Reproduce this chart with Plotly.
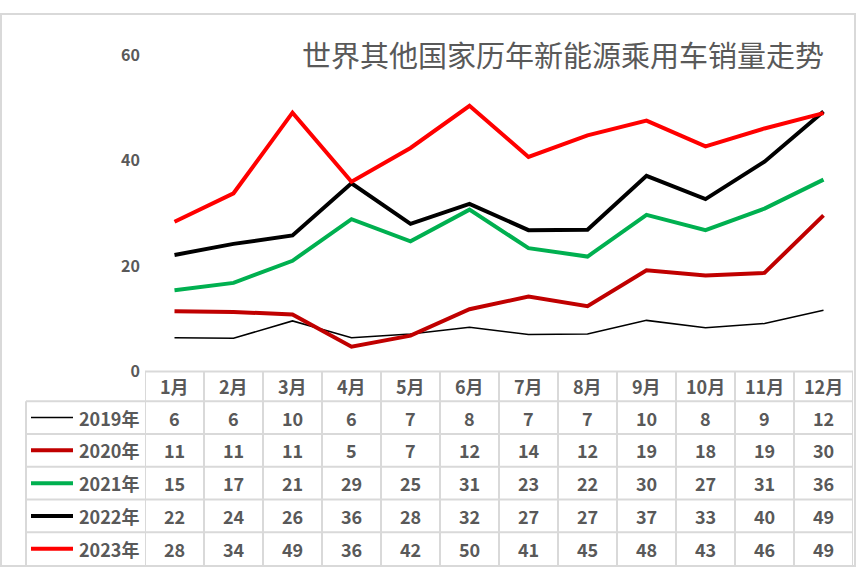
import plotly.graph_objects as go

W, H = 856, 578

months = ['1月', '2月', '3月', '4月', '5月', '6月', '7月', '8月', '9月', '10月', '11月', '12月']
years = ['2019年', '2020年', '2021年', '2022年', '2023年']

sales_2019 = [6.4, 6.3, 9.6, 6.4, 7.1, 8.4, 7.0, 7.1, 9.7, 8.3, 9.1, 11.6]
sales_2020 = [11.4, 11.3, 10.8, 4.7, 6.8, 11.8, 14.2, 12.4, 19.2, 18.2, 18.7, 29.6]
sales_2021 = [15.4, 16.8, 21.0, 28.9, 24.7, 30.7, 23.4, 21.8, 29.7, 26.8, 30.9, 36.4]
sales_2022 = [22.1, 24.2, 25.8, 35.7, 28.0, 31.8, 26.8, 26.9, 37.1, 32.7, 39.8, 49.3]
sales_2023 = [28.4, 33.8, 49.1, 36.0, 42.4, 50.4, 40.7, 44.8, 47.6, 42.7, 46.1, 49.0]

series = [sales_2019, sales_2020, sales_2021, sales_2022, sales_2023]
colors = ['#000000', '#C00000', '#00B050', '#000000', '#FF0000']
widths = [1.6, 4, 4, 4, 4]

GRID = '#D9D9D9'
TXT = '#595959'
FONT = 'Noto Sans CJK SC'


def px(x):
    return x / W


def py(y):
    return 1 - y / H


# plot area and table geometry (pixels)
left, right, top, axis_y = 145, 853, 44, 374
header_bot = 405
row_h = 34.2
legend_left = 26

fig = go.Figure()

for name, vals, c, w in zip(years, series, colors, widths):
    fig.add_trace(go.Scatter(
        x=months, y=vals, mode='lines', name=name,
        line=dict(color=c, width=w)
    ))

shapes = []
annotations = []
cell_font = dict(family=FONT, size=18, color=TXT, weight='bold')

# outer chart border
shapes.append(dict(type='rect', xref='paper', yref='paper',
                   x0=px(1), x1=px(855), y0=py(577), y1=py(1),
                   line=dict(color=GRID, width=2)))

# horizontal table lines
shapes.append(dict(type='line', xref='paper', yref='paper',
                   x0=px(left), x1=px(right), y0=py(axis_y), y1=py(axis_y),
                   line=dict(color=GRID, width=2)))
for i in range(len(years)):
    yy = header_bot + i * row_h
    shapes.append(dict(type='line', xref='paper', yref='paper',
                       x0=px(legend_left), x1=px(right), y0=py(yy), y1=py(yy),
                       line=dict(color=GRID, width=2)))
bottom = header_bot + len(years) * row_h

# vertical table lines
for k in range(len(months) + 1):
    shapes.append(dict(type='line', xref='x', yref='paper',
                       x0=k - 0.5, x1=k - 0.5, y0=py(bottom), y1=py(axis_y),
                       line=dict(color=GRID, width=2)))
shapes.append(dict(type='line', xref='paper', yref='paper',
                   x0=px(legend_left), x1=px(legend_left), y0=py(bottom), y1=py(header_bot),
                   line=dict(color=GRID, width=2)))

# header row
for m in months:
    annotations.append(dict(x=m, xref='x', y=py((axis_y + header_bot) / 2), yref='paper',
                            text=m, showarrow=False, xanchor='center', yanchor='middle',
                            font=cell_font))

# data rows with legend keys
for i, (name, vals, c, w) in enumerate(zip(years, series, colors, widths)):
    yc = header_bot + (i + 0.5) * row_h
    shapes.append(dict(type='line', xref='paper', yref='paper',
                       x0=px(31), x1=px(73), y0=py(yc), y1=py(yc),
                       line=dict(color=c, width=w)))
    annotations.append(dict(x=px(141), xref='paper', y=py(yc), yref='paper',
                            text=name, showarrow=False, xanchor='right', yanchor='middle',
                            font=cell_font))
    for m, v in zip(months, vals):
        annotations.append(dict(x=m, xref='x', y=py(yc), yref='paper',
                                text=f'{v:.0f}', showarrow=False, xanchor='center', yanchor='middle',
                                font=cell_font))

# title
annotations.append(dict(x=px(826), xref='paper', y=py(43), yref='paper',
                        text='世界其他国家历年新能源乘用车销量走势', showarrow=False,
                        xanchor='right', yanchor='middle',
                        font=dict(family=FONT, size=29, color=TXT)))

fig.update_layout(
    autosize=True,
    margin=dict(l=0, r=0, t=0, b=0),
    paper_bgcolor='white', plot_bgcolor='white',
    showlegend=False,
    xaxis=dict(domain=[px(left), px(right)], range=[-0.5, 11.5],
               showticklabels=False, showgrid=False, zeroline=False, showline=False, ticks=''),
    yaxis=dict(domain=[py(axis_y), py(top)], range=[0, 60],
               tickvals=[0, 20, 40, 60], showgrid=False, zeroline=False, showline=False,
               ticks='', ticklabelstandoff=4,
               tickfont=dict(family=FONT, size=16, color=TXT, weight='bold')),
    shapes=shapes,
    annotations=annotations,
)

fit_page = (
    "document.documentElement.style.height='100%';"
    "document.body.style.height='100%';"
    "document.body.style.margin='0';"
    "document.body.style.overflow='hidden';"
    "var gd=document.getElementById('{plot_id}');"
    "gd.parentElement.style.height='100%';"
    "Plotly.Plots.resize(gd);"
)

fig.write_html('out.html', config={'displayModeBar': False, 'responsive': True},
               default_width='100%', default_height='100%',
               post_script=fit_page)
